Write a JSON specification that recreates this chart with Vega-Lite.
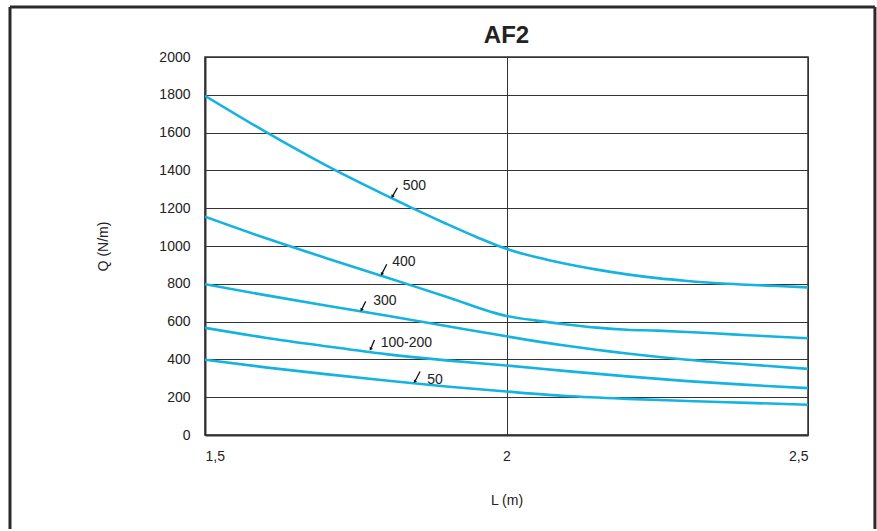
{
  "$schema": "https://vega.github.io/schema/vega-lite/v6.json",
  "width": 603,
  "height": 378,
  "padding": {"left": 8, "top": 5, "right": 0, "bottom": 0},
  "background": "white",
  "config": {
    "view": {"stroke": "#333", "strokeWidth": 1.5},
    "axis": {"labelFont": "Liberation Sans", "titleFont": "Liberation Sans", "labelFontSize": 14, "titleFontSize": 14, "labelColor": "#222", "titleColor": "#222", "titleFontWeight": "normal", "gridColor": "#333", "gridOpacity": 1, "gridWidth": 1, "domainColor": "#333", "domainWidth": 2, "ticks": false, "tickSize": 0, "labelOverlap": false}
  },
  "datasets": {
    "curves": [
      {"series": "500", "L": 1.5, "Q": 1795}, {"series": "500", "L": 1.6, "Q": 1605}, {"series": "500", "L": 1.7, "Q": 1428}, {"series": "500", "L": 1.8, "Q": 1268}, {"series": "500", "L": 1.9, "Q": 1118}, {"series": "500", "L": 1.95, "Q": 1048}, {"series": "500", "L": 2.0, "Q": 985}, {"series": "500", "L": 2.05, "Q": 940}, {"series": "500", "L": 2.1, "Q": 905}, {"series": "500", "L": 2.15, "Q": 875}, {"series": "500", "L": 2.2, "Q": 850}, {"series": "500", "L": 2.25, "Q": 830}, {"series": "500", "L": 2.3, "Q": 815}, {"series": "500", "L": 2.35, "Q": 803}, {"series": "500", "L": 2.4, "Q": 795}, {"series": "500", "L": 2.45, "Q": 788}, {"series": "500", "L": 2.5, "Q": 781},
      {"series": "400", "L": 1.5, "Q": 1155}, {"series": "400", "L": 1.6, "Q": 1042}, {"series": "400", "L": 1.7, "Q": 937}, {"series": "400", "L": 1.8, "Q": 835}, {"series": "400", "L": 1.9, "Q": 732}, {"series": "400", "L": 2.0, "Q": 630}, {"series": "400", "L": 2.05, "Q": 605}, {"series": "400", "L": 2.1, "Q": 585}, {"series": "400", "L": 2.15, "Q": 568}, {"series": "400", "L": 2.2, "Q": 557}, {"series": "400", "L": 2.25, "Q": 552}, {"series": "400", "L": 2.3, "Q": 545}, {"series": "400", "L": 2.35, "Q": 537}, {"series": "400", "L": 2.4, "Q": 528}, {"series": "400", "L": 2.45, "Q": 520}, {"series": "400", "L": 2.5, "Q": 512},
      {"series": "300", "L": 1.5, "Q": 798}, {"series": "300", "L": 1.6, "Q": 740}, {"series": "300", "L": 1.7, "Q": 685}, {"series": "300", "L": 1.8, "Q": 632}, {"series": "300", "L": 1.9, "Q": 577}, {"series": "300", "L": 2.0, "Q": 522}, {"series": "300", "L": 2.1, "Q": 472}, {"series": "300", "L": 2.2, "Q": 431}, {"series": "300", "L": 2.3, "Q": 398}, {"series": "300", "L": 2.4, "Q": 373}, {"series": "300", "L": 2.5, "Q": 350},
      {"series": "100-200", "L": 1.5, "Q": 567}, {"series": "100-200", "L": 1.6, "Q": 515}, {"series": "100-200", "L": 1.7, "Q": 470}, {"series": "100-200", "L": 1.8, "Q": 428}, {"series": "100-200", "L": 1.9, "Q": 395}, {"series": "100-200", "L": 2.0, "Q": 368}, {"series": "100-200", "L": 2.1, "Q": 338}, {"series": "100-200", "L": 2.2, "Q": 310}, {"series": "100-200", "L": 2.3, "Q": 285}, {"series": "100-200", "L": 2.4, "Q": 265}, {"series": "100-200", "L": 2.5, "Q": 248},
      {"series": "50", "L": 1.5, "Q": 398}, {"series": "50", "L": 1.6, "Q": 358}, {"series": "50", "L": 1.7, "Q": 322}, {"series": "50", "L": 1.8, "Q": 288}, {"series": "50", "L": 1.9, "Q": 257}, {"series": "50", "L": 2.0, "Q": 230}, {"series": "50", "L": 2.1, "Q": 206}, {"series": "50", "L": 2.2, "Q": 191}, {"series": "50", "L": 2.3, "Q": 180}, {"series": "50", "L": 2.4, "Q": 170}, {"series": "50", "L": 2.5, "Q": 160}
    ],
    "labels": [
      {"series": "500", "tL": 1.828, "tQ": 1318, "L1": 1.819, "Q1": 1308, "L2": 1.8106, "Q2": 1261},
      {"series": "400", "tL": 1.8106, "tQ": 914, "L1": 1.8013, "Q1": 903, "L2": 1.793, "Q2": 850},
      {"series": "300", "tL": 1.779, "tQ": 711, "L1": 1.7665, "Q1": 707, "L2": 1.7593, "Q2": 661},
      {"series": "100-200", "tL": 1.7913, "tQ": 489, "L1": 1.781, "Q1": 503, "L2": 1.7745, "Q2": 454},
      {"series": "50", "tL": 1.8687, "tQ": 293, "L1": 1.8566, "Q1": 336, "L2": 1.8478, "Q2": 282}
    ],
    "heading": [{"text": "AF2", "L": 2.0, "Q": 2074}]
  },
  "layer": [
    {
      "data": {"name": "curves"},
      "mark": {"type": "line", "color": "#15b3df", "strokeWidth": 2.6, "interpolate": "monotone", "clip": true},
      "encoding": {
        "x": {"field": "L", "type": "quantitative", "scale": {"domain": [1.5, 2.5], "nice": false, "zero": false},
          "axis": {"values": [1.5, 2, 2.5], "tickCount": 20, "format": ".1~f", "labelExpr": "replace(datum.label, '.', ',')", "title": "L (m)", "grid": true, "labelPadding": 14, "titlePadding": 30, "domain": true}},
        "y": {"field": "Q", "type": "quantitative", "scale": {"domain": [0, 2000], "nice": false},
          "axis": {"values": [0, 200, 400, 600, 800, 1000, 1200, 1400, 1600, 1800, 2000], "tickCount": 20, "title": "Q (N/m)", "grid": true, "labelPadding": 15, "titlePadding": 48, "format": "d"}},
        "detail": {"field": "series"}
      }
    },
    {
      "data": {"values": [{"side": "left"}]},
      "mark": {"type": "rule", "color": "#2a2a2a", "strokeWidth": 3},
      "encoding": {
        "x": {"datum": 1.1766, "type": "quantitative"},
        "y": {"datum": 2265, "type": "quantitative"},
        "y2": {"datum": -497}
      }
    },
    {
      "data": {"values": [{"side": "right"}]},
      "mark": {"type": "rule", "color": "#2a2a2a", "strokeWidth": 3},
      "encoding": {
        "x": {"datum": 2.611, "type": "quantitative"},
        "y": {"datum": 2265, "type": "quantitative"},
        "y2": {"datum": -497}
      }
    },
    {
      "data": {"values": [{"side": "top"}]},
      "mark": {"type": "rule", "color": "#2a2a2a", "strokeWidth": 3},
      "encoding": {
        "x": {"datum": 1.1766, "type": "quantitative"},
        "x2": {"datum": 2.611},
        "y": {"datum": 2265, "type": "quantitative"}
      }
    },
    {
      "data": {"name": "heading"},
      "mark": {"type": "text", "align": "center", "baseline": "alphabetic", "font": "Liberation Sans", "fontSize": 24, "fontWeight": "bold", "color": "#222"},
      "encoding": {
        "x": {"field": "L", "type": "quantitative"},
        "y": {"field": "Q", "type": "quantitative"},
        "text": {"field": "text"}
      }
    },
    {
      "data": {"name": "labels"},
      "mark": {"type": "rule", "color": "#111", "strokeWidth": 1.3},
      "encoding": {
        "x": {"field": "L1", "type": "quantitative"},
        "y": {"field": "Q1", "type": "quantitative"},
        "x2": {"field": "L2"},
        "y2": {"field": "Q2"}
      }
    },
    {
      "data": {"name": "labels"},
      "mark": {"type": "point", "shape": "triangle-down", "filled": true, "color": "#111", "size": 14, "angle": 29, "opacity": 1},
      "encoding": {
        "x": {"field": "L2", "type": "quantitative"},
        "y": {"field": "Q2", "type": "quantitative"}
      }
    },
    {
      "data": {"name": "labels"},
      "mark": {"type": "text", "align": "left", "baseline": "middle", "font": "Liberation Sans", "fontSize": 14, "color": "#222"},
      "encoding": {
        "x": {"field": "tL", "type": "quantitative"},
        "y": {"field": "tQ", "type": "quantitative"},
        "text": {"field": "series"}
      }
    }
  ]
}
